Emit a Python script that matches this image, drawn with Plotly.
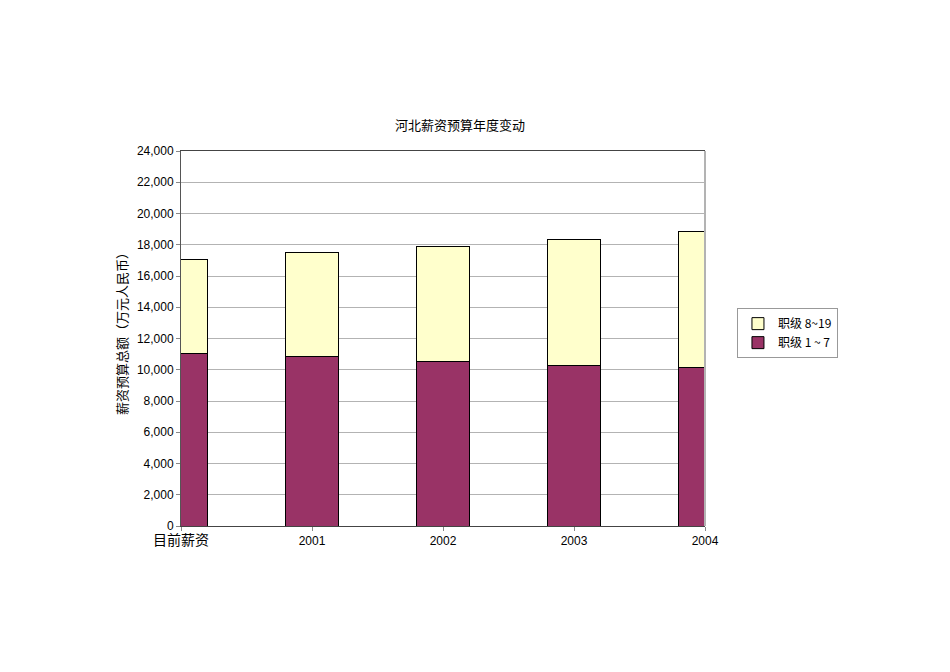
import plotly.graph_objects as go

# categories and values
categories = ['目前薪资', '2001', '2002', '2003', '2004']
grade_1_7 = [11070, 10860, 10560, 10300, 10130]
grade_8_19_total = [17070, 17490, 17900, 18350, 18820]
grade_8_19 = [t - b for t, b in zip(grade_8_19_total, grade_1_7)]

tick_text = ['<span style="font-size:14px">目前薪资</span>', '2001', '2002', '2003', '2004']

font_main = 'Liberation Sans Narrow, Liberation Sans, Noto Sans CJK SC, sans-serif'

fig = go.Figure()
fig.add_trace(go.Bar(x=categories, y=grade_1_7, name='职级 1 ~ 7',
                     marker=dict(color='#993366', line=dict(color='black', width=1)),
                     width=0.4))
fig.add_trace(go.Bar(x=categories, y=grade_8_19, name='职级 8~19',
                     marker=dict(color='#FFFFCC', line=dict(color='black', width=1)),
                     width=0.4))

fig.update_layout(
    width=950, height=672,
    barmode='stack',
    paper_bgcolor='white', plot_bgcolor='white',
    margin=dict(l=173, r=253, t=143, b=154),
    font=dict(family=font_main, size=12, color='black'),
    showlegend=True,
    legend=dict(x=1.061, y=0.581, xanchor='left', yanchor='top',
                traceorder='reversed', bordercolor='#999999', borderwidth=1,
                font=dict(family='Noto Sans CJK SC, sans-serif', size=12),
                itemwidth=30, tracegroupgap=0),
    xaxis=dict(type='category', range=[0, 4], tickvals=categories, ticktext=tick_text,
               showline=True, linecolor='#444444', mirror=True, linewidth=1,
               ticks='outside', ticklen=4, tickcolor='#888888',
               showgrid=False, tickfont=dict(size=12)),
    yaxis=dict(range=[0, 24000], dtick=2000, tickformat=',d',
               showline=True, linecolor='#555555', linewidth=1,
               ticks='outside', ticklen=4, tickcolor='#888888',
               gridcolor='#b3b3b3', gridwidth=1, zeroline=False,
               tickfont=dict(size=12)),
    shapes=[dict(type='line', xref='paper', yref='paper', x0=1, x1=1, y0=0, y1=1,
                 line=dict(color='#b3b3b3', width=2))],
    annotations=[
        dict(text='河北薪资预算年度变动', xref='paper', yref='paper',
             x=0.532, y=1.07, xanchor='center', yanchor='middle', showarrow=False,
             font=dict(family='Noto Sans CJK SC, sans-serif', size=13)),
        dict(text='薪资预算总额（万元人民币）', xref='paper', yref='paper',
             x=-0.1145, y=0.52, xanchor='center', yanchor='middle', showarrow=False,
             textangle=-90,
             font=dict(family='Noto Sans CJK SC, sans-serif', size=13)),
    ],
)

fig.write_html("out.html")
